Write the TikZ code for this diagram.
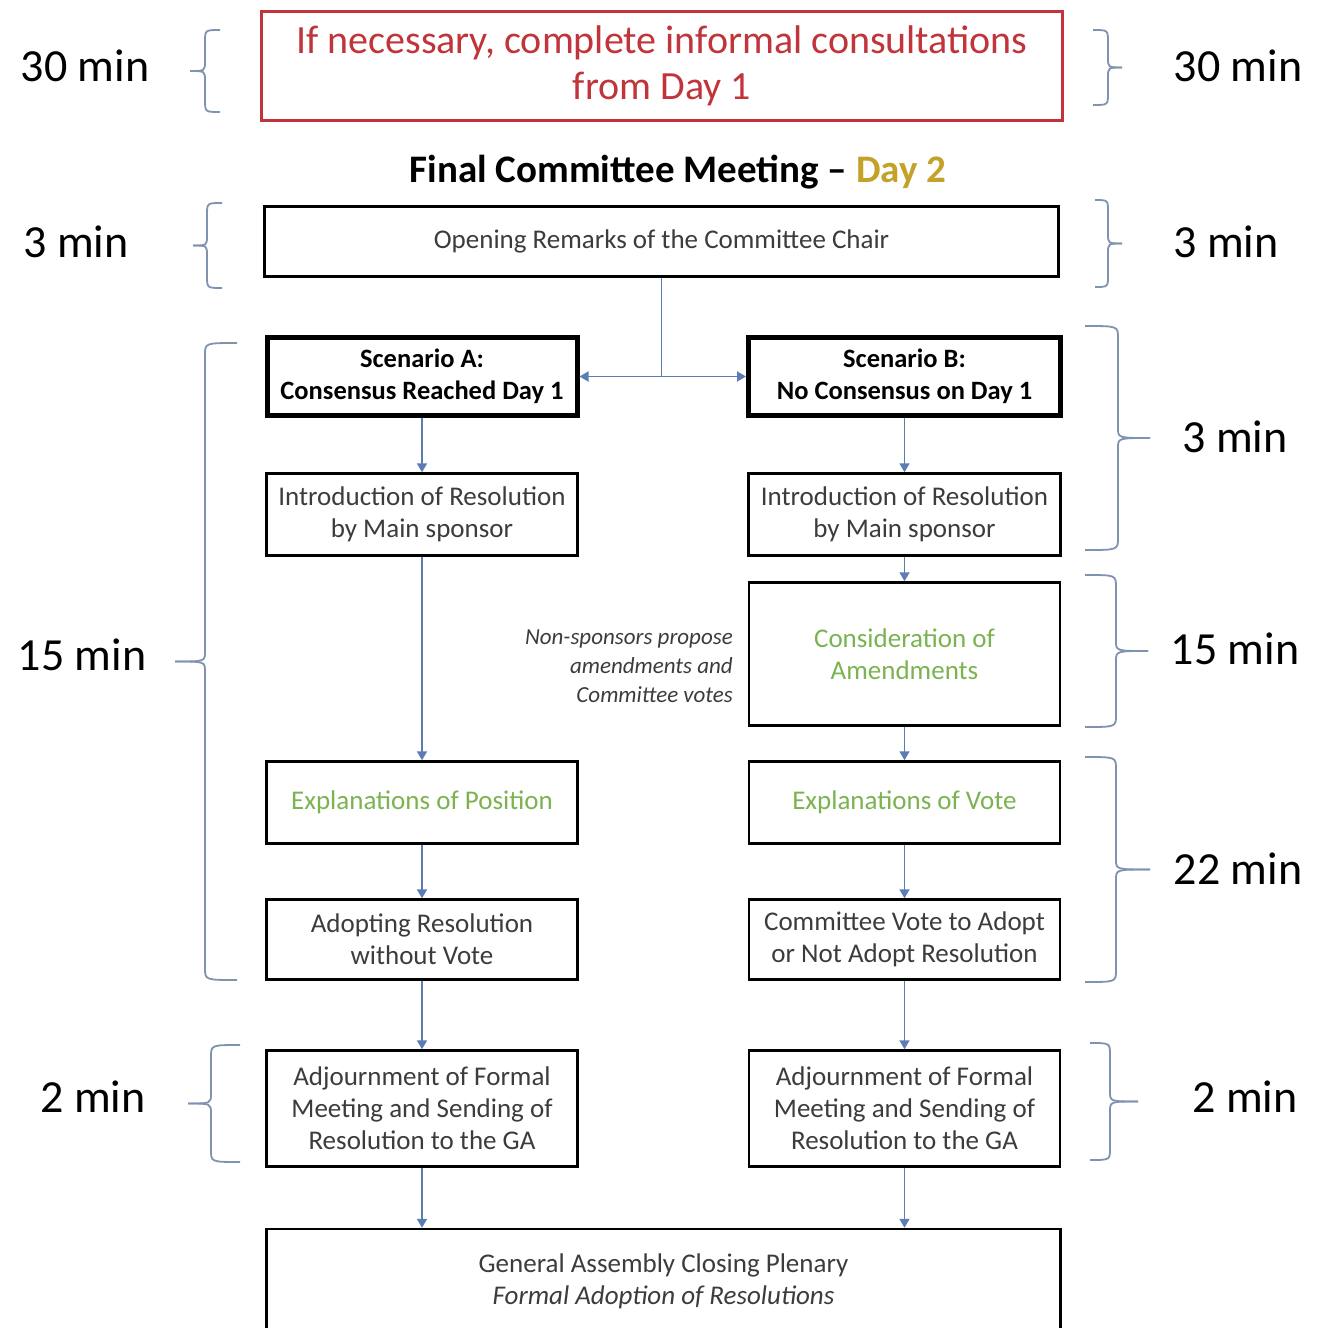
\documentclass[tikz,border=0pt]{standalone}
\usepackage{fontspec}
\setmainfont{Carlito}
\usetikzlibrary{arrows.meta}
\definecolor{boxtext}{HTML}{3C3C3C}
\definecolor{redc}{HTML}{C0343A}
\definecolor{goldc}{HTML}{C4A22A}
\definecolor{greenc}{HTML}{7AB350}
\definecolor{arrowblue}{HTML}{5B7DB3}
\definecolor{bracecol}{HTML}{7F92B0}
\newcommand\fntbox{\fontsize{27}{32}\selectfont}
\newcommand\fntscen{\fontsize{26.5}{32}\selectfont\bfseries}
\newcommand\fntmin{\fontsize{46}{50}\selectfont}
\newcommand\fntred{\fontsize{40}{46}\selectfont}
\newcommand\fnttitle{\fontsize{39}{40}\selectfont\bfseries}
\newcommand\fntnote{\fontsize{23}{29}\selectfont\itshape}
\newcommand\bracepath[5]{%
  \pgfmathsetmacro\bym{(#2+#3)/2}%
  \draw[brc] (#4,#2) .. controls (#1,#2) .. (#1,#2+12) -- (#1,\bym-10) .. controls (#1,\bym) .. (#5,\bym);
  \draw[brc] (#4,#3) .. controls (#1,#3) .. (#1,#3-12) -- (#1,\bym+10) .. controls (#1,\bym) .. (#5,\bym);
}
\tikzset{
  box/.style={draw=black, line width=2.5pt, rectangle, align=center, text=boxtext, font=\fntbox, inner sep=0pt},
  scen/.style={box, line width=5pt, font=\fntscen, text=black},
  arr/.style={draw=arrowblue, line width=1.8pt, -{Triangle[width=10pt,length=9pt]}},
  link/.style={draw=arrowblue, line width=1.8pt},
  brc/.style={draw=bracecol, line width=1.8pt},
  mins/.style={font=\fntmin, text=black, inner sep=0pt},
  grn/.style={text=greenc}
}
\begin{document}
\begin{tikzpicture}[x=1pt,y=-1pt]
\useasboundingbox (0,0) rectangle (1322,1328);
\fill[white] (0,0) rectangle (1322,1328);

% top red box
\node[box, draw=redc, line width=3pt, text=redc, font=\fntred, minimum width=801, minimum height=109] (red) at (662,66)
  {If necessary, complete informal consultations\\from Day 1};
\node[font=\fnttitle, inner sep=0pt] (title) at (678,172) {Final Committee Meeting -- \textcolor{goldc}{Day 2}};

\node[box, minimum width=794, minimum height=70] (open) at (661.5,241.5) {Opening Remarks of the Committee Chair};

\node[scen, minimum width=310, minimum height=78] (scA) at (422,376.5) {Scenario A:\\Consensus Reached Day 1};
\node[scen, minimum width=312, minimum height=78] (scB) at (904.5,376.5) {Scenario B:\\No Consensus on Day 1};

\node[box, minimum width=311, minimum height=82] (introA) at (422,514.5) {Introduction of Resolution\\by Main sponsor};
\node[box, minimum width=312, minimum height=82] (introB) at (904.5,514.5) {Introduction of Resolution\\by Main sponsor};

\node[box, grn, minimum width=311, minimum height=143] (cons) at (904.5,654) {Consideration of\\Amendments};
\node[font=\fntnote, text=boxtext, align=right, anchor=east, inner sep=0pt] (note) at (733,666)
  {Non-sponsors propose\\amendments and\\Committee votes};

\node[box, grn, minimum width=311, minimum height=82] (explA) at (422,802.5) {Explanations of Position};
\node[box, grn, minimum width=311, minimum height=82] (explB) at (904.5,802.5) {Explanations of Vote};

\node[box, minimum width=311, minimum height=80] (adoptA) at (422,939.5) {Adopting Resolution\\without Vote};
\node[box, minimum width=311, minimum height=80] (voteB) at (904.5,939.5) {Committee Vote to Adopt\\or Not Adopt Resolution};

\node[box, minimum width=311, minimum height=116] (adjA) at (422,1108.5) {Adjournment of Formal\\Meeting and Sending of\\Resolution to the GA};
\node[box, minimum width=311, minimum height=116] (adjB) at (904.5,1108.5) {Adjournment of Formal\\Meeting and Sending of\\Resolution to the GA};

\node[box, minimum width=794, minimum height=104] (ga) at (663.5,1281) {General Assembly Closing Plenary\\\textit{Formal Adoption of Resolutions}};

% connectors
\coordinate (split) at (open.south |- scA.east);
\draw[link] (open.south) -- (split);
\draw[arr] (split) -- (scA.east);
\draw[arr] (split) -- (scB.west);
\draw[arr] (scA) -- (introA);
\draw[arr] (introA) -- (explA);
\draw[arr] (explA) -- (adoptA);
\draw[arr] (adoptA) -- (adjA);
\draw[arr] (adjA.south) -- (adjA.south |- ga.north);
\draw[arr] (scB) -- (introB);
\draw[arr] (introB) -- (cons);
\draw[arr] (cons) -- (explB);
\draw[arr] (explB) -- (voteB);
\draw[arr] (voteB) -- (adjB);
\draw[arr] (adjB.south) -- (adjB.south |- ga.north);

% braces
\bracepath{205}{30}{112}{220}{190}
\bracepath{207}{203}{288}{222}{193}
\bracepath{205}{343}{980}{237}{175}
\bracepath{211}{1045}{1162}{240}{188}
\bracepath{1108}{30}{105}{1093}{1122}
\bracepath{1108}{200}{287}{1095}{1122}
\bracepath{1118}{326}{550}{1085}{1150}
\bracepath{1116}{575}{727}{1085}{1148}
\bracepath{1116}{757}{982}{1085}{1150}
\bracepath{1110}{1043}{1160}{1090}{1138}

% time labels
\node[mins] (tL1) at (85,66) {30 min};
\node[mins] (tR1) at (1238,66) {30 min};
\node[mins] (tL2) at (76,242) {3 min};
\node[mins] (tR2) at (1226,242) {3 min};
\node[mins] (tL3) at (82,655) {15 min};
\node[mins] (tR3) at (1235,437) {3 min};
\node[mins] (tR4) at (1235,649) {15 min};
\node[mins] (tR5) at (1238,869) {22 min};
\node[mins] (tL4) at (93,1097) {2 min};
\node[mins] (tR6) at (1245,1097) {2 min};
\end{tikzpicture}
\end{document}
